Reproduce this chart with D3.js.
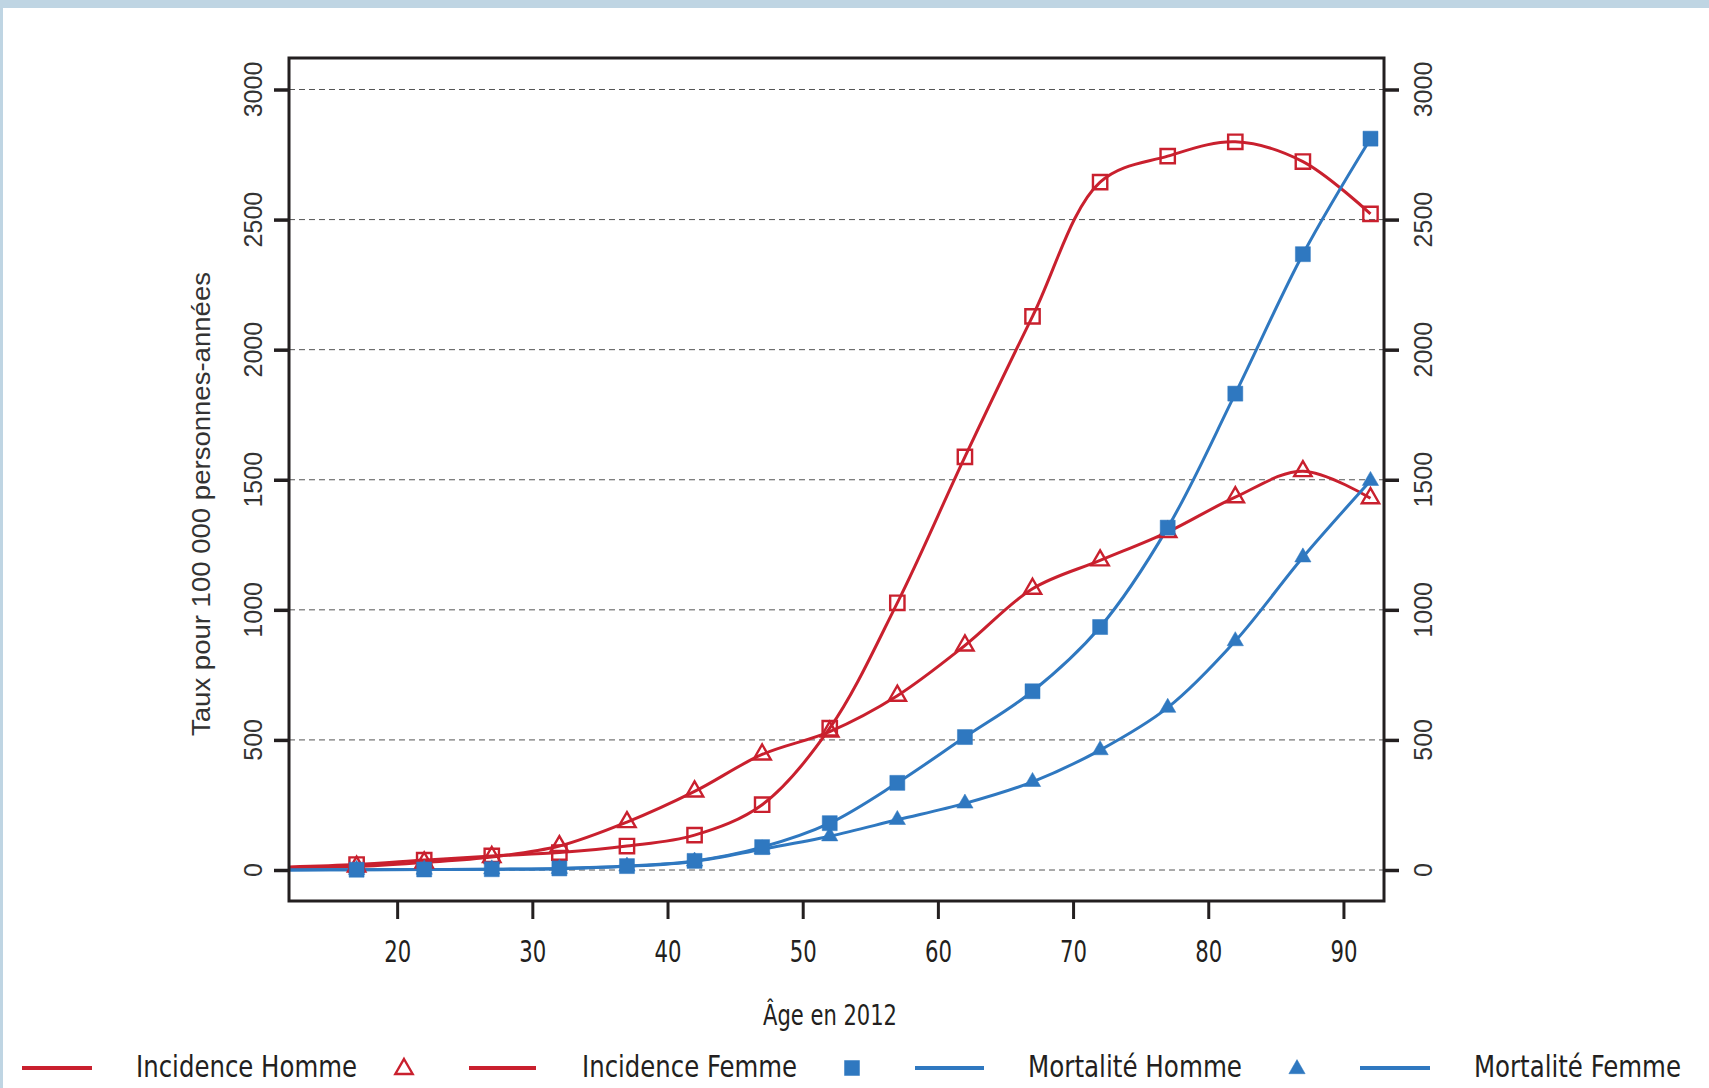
<!DOCTYPE html>
<html>
<head>
<meta charset="utf-8">
<script src="https://cdn.jsdelivr.net/npm/d3@7"></script>
<style>
  body { margin: 0; background: #fff; }
  svg { display: block; }
  .narrow { font-family: "Liberation Sans Narrow", "DejaVu Sans Condensed", "Roboto", sans-serif; }
</style>
</head>
<body>
<div id="chart"></div>
<script>
const width = 1709, height = 1088,
margin = ({ top: 58, right: 325, bottom: 187, left: 289 });

// age groups (mid point), first point has no marker
const ages = [12, 17, 22, 27, 32, 37, 42, 47, 52, 57, 62, 67, 72, 77, 82, 87, 92];
const incidenceHomme = [10, 13, 29, 50, 92, 184, 302, 444, 532, 670, 863, 1081, 1190, 1299, 1433, 1533, 1429];
const incidenceFemme = [12, 21, 38, 54, 67, 92, 134, 251, 545, 1027, 1588, 2128, 2644, 2744, 2799, 2723, 2522];
const mortaliteHomme = [0, 1, 2, 3, 6, 15, 35, 88, 180, 335, 511, 687, 934, 1316, 1831, 2367, 2811];
const mortaliteFemme = [0, 1, 2, 3, 5, 14, 33, 80, 130, 193, 256, 339, 461, 624, 880, 1202, 1496];
const xTicks = [20, 30, 40, 50, 60, 70, 80, 90];
const yTicks = [0, 500, 1000, 1500, 2000, 2500, 3000];
const legendLabels = ["Incidence Homme", "Incidence Femme", "Mortalité Homme", "Mortalité Femme"];

const red = "#c9202e", blue = "#2f78c0";

const series = [
  { name: "Incidence Femme", values: incidenceFemme, color: red, shape: "square", fill: false },
  { name: "Incidence Homme", values: incidenceHomme, color: red, shape: "triangle", fill: false },
  { name: "Mortalité Femme", values: mortaliteFemme, color: blue, shape: "triangle", fill: true },
  { name: "Mortalité Homme", values: mortaliteHomme, color: blue, shape: "square", fill: true }
];

const svg = d3.select("#chart")
    .append("svg")
    .attr("width", width)
    .attr("height", height);

// frame band
svg.append("rect").attr("x", 0).attr("y", 0).attr("width", width).attr("height", 8).attr("fill", "#bfd5e3");
svg.append("rect").attr("x", 0).attr("y", 0).attr("width", 3).attr("height", height).attr("fill", "#bfd5e3");

let x = d3.scaleLinear()
    .domain([12, 93])
    .range([margin.left, width - margin.right]);

let y = d3.scaleLinear()
    .domain([0, 3000])
    .range([870, 89.5]);

const plotBottom = height - margin.bottom;

// grid
svg.append("g")
    .selectAll("line")
    .data(yTicks)
    .join("line")
    .attr("x1", margin.left).attr("x2", width - margin.right)
    .attr("y1", d => y(d)).attr("y2", d => y(d))
    .attr("stroke", "#555")
    .attr("stroke-width", 1)
    .attr("stroke-dasharray", "6,4");

// axes
const xAxis = svg.append("g")
    .attr("transform", `translate(0,${plotBottom})`)
    .call(d3.axisBottom(x).tickValues(xTicks).tickSize(18).tickPadding(22));
xAxis.select(".domain").remove();
xAxis.selectAll(".tick line").attr("stroke", "#231f20").attr("stroke-width", 3);
xAxis.selectAll(".tick text")
    .attr("class", "narrow")
    .attr("font-size", 30)
    .attr("fill", "#231f20")
    .attr("textLength", 27)
    .attr("lengthAdjust", "spacingAndGlyphs");

function yAxisSide(axisFn, xpos, labelX) {
  const g = svg.append("g")
      .attr("transform", `translate(${xpos},0)`)
      .call(axisFn(y).tickValues(yTicks).tickSize(15).tickFormat(""));
  g.select(".domain").remove();
  g.selectAll(".tick line").attr("stroke", "#231f20").attr("stroke-width", 3.5);
  svg.append("g")
      .selectAll("text")
      .data(yTicks)
      .join("text")
      .attr("transform", d => `translate(${labelX},${y(d)}) rotate(-90)`)
      .attr("text-anchor", "middle")
      .attr("dy", "0.35em")
      .attr("font-family", "Liberation Sans, Arial, sans-serif")
      .attr("font-size", 25)
      .attr("fill", "#333")
      .text(d => d);
}
yAxisSide(d3.axisLeft, margin.left, 253);
yAxisSide(d3.axisRight, width - margin.right, 1423);

// lines
const line = d3.line()
    .x((d, i) => x(ages[i]))
    .y(d => y(d))
    .curve(d3.curveCatmullRom.alpha(0.5));

svg.append("g")
    .selectAll("path")
    .data(series)
    .join("path")
    .attr("d", d => line(d.values))
    .attr("fill", "none")
    .attr("stroke", d => d.color)
    .attr("stroke-width", 3);

// markers
const sq = d3.symbol().type(d3.symbolSquare);
const tri = d3.symbol().type(d3.symbolTriangle);

function marker(sel, s, fill) {
  sel.attr("d", s.shape === "square" ? sq.size(fill ? 225 : 205)() : tri.size(fill ? 115 : 130)())
     .attr("fill", fill ? s.color : "none")
     .attr("stroke", s.color)
     .attr("stroke-width", fill ? 0.5 : 2.4);
}

series.forEach(s => {
  svg.append("g")
      .selectAll("path")
      .data(s.values.slice(1))
      .join("path")
      .attr("transform", (d, i) => `translate(${x(ages[i + 1])},${y(d)})`)
      .call(sel => marker(sel, s, s.fill));
});

// axis titles
svg.append("text")
    .attr("class", "narrow")
    .attr("x", 830).attr("y", 1025)
    .attr("text-anchor", "middle")
    .attr("font-size", 28)
    .attr("fill", "#231f20")
    .attr("textLength", 134)
    .attr("lengthAdjust", "spacingAndGlyphs")
    .text("Âge en 2012");

svg.append("text")
    .attr("transform", "translate(210,504) rotate(-90)")
    .attr("text-anchor", "middle")
    .attr("font-family", "Liberation Sans, Arial, sans-serif")
    .attr("font-size", 25)
    .attr("fill", "#333")
    .attr("textLength", 464)
    .attr("lengthAdjust", "spacingAndGlyphs")
    .text("Taux pour 100 000 personnes-années");

// legend (as in the original, markers sit between entries)
const legendY = 1068;
const legendLines = [[22, 92, red], [469, 536, red], [915, 984, blue], [1360, 1430, blue]];
const legendText = [136, 582, 1028, 1474];
const legendTextLen = [221, 215, 214, 207];

svg.append("g")
    .selectAll("line")
    .data(legendLines)
    .join("line")
    .attr("x1", d => d[0]).attr("x2", d => d[1])
    .attr("y1", legendY).attr("y2", legendY)
    .attr("stroke", d => d[2])
    .attr("stroke-width", 4);

svg.append("g")
    .selectAll("text")
    .data(legendLabels)
    .join("text")
    .attr("class", "narrow")
    .attr("x", (d, i) => legendText[i])
    .attr("y", 1077)
    .attr("font-size", 31)
    .attr("fill", "#231f20")
    .attr("textLength", (d, i) => legendTextLen[i])
    .attr("lengthAdjust", "spacingAndGlyphs")
    .text(d => d);

svg.append("path").attr("transform", `translate(404,${legendY + 1})`)
    .call(sel => marker(sel, series[1], false));
svg.append("path").attr("transform", `translate(852,${legendY})`)
    .call(sel => marker(sel, series[3], true));
svg.append("path").attr("transform", `translate(1297,${legendY + 1})`)
    .call(sel => marker(sel, series[2], true));

// frame
svg.append("rect")
    .attr("x", margin.left).attr("y", margin.top)
    .attr("width", width - margin.left - margin.right)
    .attr("height", plotBottom - margin.top)
    .attr("fill", "none")
    .attr("stroke", "#231f20")
    .attr("stroke-width", 3);
</script>
</body>
</html>
